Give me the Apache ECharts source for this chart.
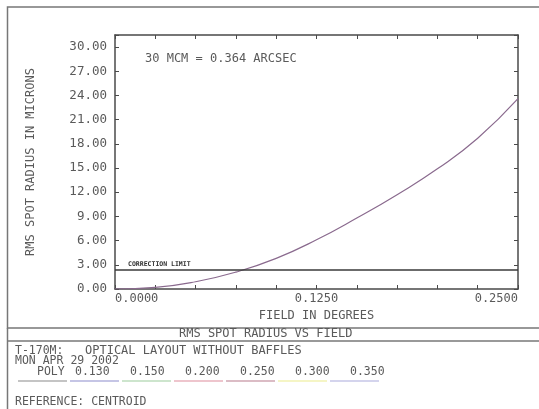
<!DOCTYPE html>
<html>
<head>
<meta charset="utf-8">
<script src="https://cdn.jsdelivr.net/npm/echarts@6/dist/echarts.min.js"></script>
<style>
  html, body { margin: 0; padding: 0; background: #fff; }
  #chart { width: 539px; height: 409px; }
</style>
</head>
<body>
<div id="chart"></div>
<script>
// field points (degrees) and rms spot radius (microns)
const fields = [0, 0.025, 0.05, 0.075, 0.1, 0.125, 0.15, 0.175, 0.2, 0.225, 0.25]
const rmsRadius = [0, 0.2, 0.9, 2.1, 3.8, 6.1, 8.8, 11.7, 14.9, 18.7, 23.6]
const correctionLimit = 2.44
const xLabelValues = [0, 0.125, 0.25]
const legendLabels = ['POLY', '0.130', '0.150', '0.200', '0.250', '0.300', '0.350']
const legendColors = ['#8a8a8a', '#8c8ccc', '#9ccc9c', '#dd8c9c', '#b87a8c', '#ecec8c', '#aaaadc']

const mono = 'DejaVu Sans Mono'
const txt = '#5a5a5a'
const axisColor = '#4a4a4a'

const chart = echarts.init(document.getElementById('chart'))

const legendGraphics = []
legendLabels.forEach((l, i) => {
  legendGraphics.push({
    type: 'text',
    left: i === 0 ? 37 : 75 + (i - 1) * 55,
    top: 366,
    style: { text: l, font: '11.5px ' + mono, fill: txt }
  })
  legendGraphics.push({
    type: 'line',
    shape: { x1: 18 + i * 52, y1: 381, x2: 18 + i * 52 + 49, y2: 381 },
    style: { stroke: legendColors[i], lineWidth: 1.2 }
  })
})

chart.setOption({
  animation: false,
  grid: { left: 115, right: 21, top: 35, bottom: 120 },
  xAxis: [{
    type: 'value', min: 0, max: 0.25, interval: 0.025,
    axisLine: { show: true, onZero: false, lineStyle: { color: axisColor, width: 1.5 } },
    axisTick: { show: true, inside: true, length: 4, lineStyle: { color: axisColor } },
    splitLine: { show: false },
    axisLabel: {
      margin: 4, color: txt, fontFamily: mono, fontSize: 12,
      alignMinLabel: 'left', alignMaxLabel: 'right',
      formatter: v => xLabelValues.some(x => Math.abs(x - v) < 1e-9) ? v.toFixed(4) : ''
    },
    name: 'FIELD IN DEGREES', nameLocation: 'middle', nameGap: 19,
    nameTextStyle: { color: txt, fontFamily: mono, fontSize: 12 }
  }, {
    type: 'value', min: 0, max: 0.25, interval: 0.025, position: 'top',
    axisLine: { show: true, onZero: false, lineStyle: { color: axisColor, width: 1.5 } },
    axisTick: { show: true, inside: true, length: 4, lineStyle: { color: axisColor } },
    axisLabel: { show: false }, splitLine: { show: false }
  }],
  yAxis: [{
    type: 'value', min: 0, max: 31.5, interval: 3,
    axisLine: { show: true, onZero: false, lineStyle: { color: axisColor, width: 1.5 } },
    axisTick: { show: true, inside: true, length: 4, lineStyle: { color: axisColor } },
    splitLine: { show: false },
    axisLabel: {
      margin: 8, color: txt, fontFamily: mono, fontSize: 12.5,
      formatter: v => (Math.abs(v % 3) < 1e-9 ? v.toFixed(2) : '')
    },
    name: 'RMS SPOT RADIUS IN MICRONS', nameLocation: 'middle', nameGap: 78, nameRotate: 90,
    nameTextStyle: { color: txt, fontFamily: mono, fontSize: 12 }
  }, {
    type: 'value', min: 0, max: 31.5, interval: 3, position: 'right',
    axisLine: { show: true, onZero: false, lineStyle: { color: axisColor, width: 1.5 } },
    axisTick: { show: true, inside: true, length: 4, lineStyle: { color: axisColor } },
    axisLabel: { show: false }, splitLine: { show: false }
  }],
  series: [{
    type: 'line',
    data: fields.map((f, i) => [f, rmsRadius[i]]),
    smooth: true,
    showSymbol: false,
    lineStyle: { color: '#8a6a8e', width: 1.2 },
    markLine: {
      silent: true,
      symbol: 'none',
      lineStyle: { color: '#3a3a3a', width: 1.5, type: 'solid' },
      label: {
        show: true, position: 'insideStartTop', distance: [13, 2],
        formatter: 'CORRECTION LIMIT', fontFamily: mono, fontSize: 6.5, fontWeight: 'bold', color: '#333'
      },
      data: [{ yAxis: correctionLimit }]
    }
  }],
  graphic: [
    { type: 'rect', shape: { x: 7.5, y: 7, width: 540, height: 321 }, style: { fill: 'none', stroke: '#777', lineWidth: 1.5 } },
    { type: 'line', shape: { x1: 7.5, y1: 341, x2: 539, y2: 341 }, style: { stroke: '#777', lineWidth: 1.5 } },
    { type: 'line', shape: { x1: 7.5, y1: 328, x2: 7.5, y2: 409 }, style: { stroke: '#777', lineWidth: 1.5 } },
    { type: 'text', left: 145, top: 53, style: { text: '30 MCM = 0.364 ARCSEC', font: '12px ' + mono, fill: txt } },
    { type: 'text', left: 179, top: 328, style: { text: 'RMS SPOT RADIUS VS FIELD', font: '12px ' + mono, fill: txt } },
    { type: 'text', left: 15, top: 345, style: { text: 'T-170M:', font: '11.5px ' + mono, fill: txt } },
    { type: 'text', left: 85, top: 345, style: { text: 'OPTICAL LAYOUT WITHOUT BAFFLES', font: '12px ' + mono, fill: txt } },
    { type: 'text', left: 15, top: 355, style: { text: 'MON APR 29 2002', font: '11.5px ' + mono, fill: txt } },
    { type: 'text', left: 15, top: 396, style: { text: 'REFERENCE: CENTROID', font: '11.5px ' + mono, fill: txt } }
  ].concat(legendGraphics)
})
</script>
</body>
</html>
